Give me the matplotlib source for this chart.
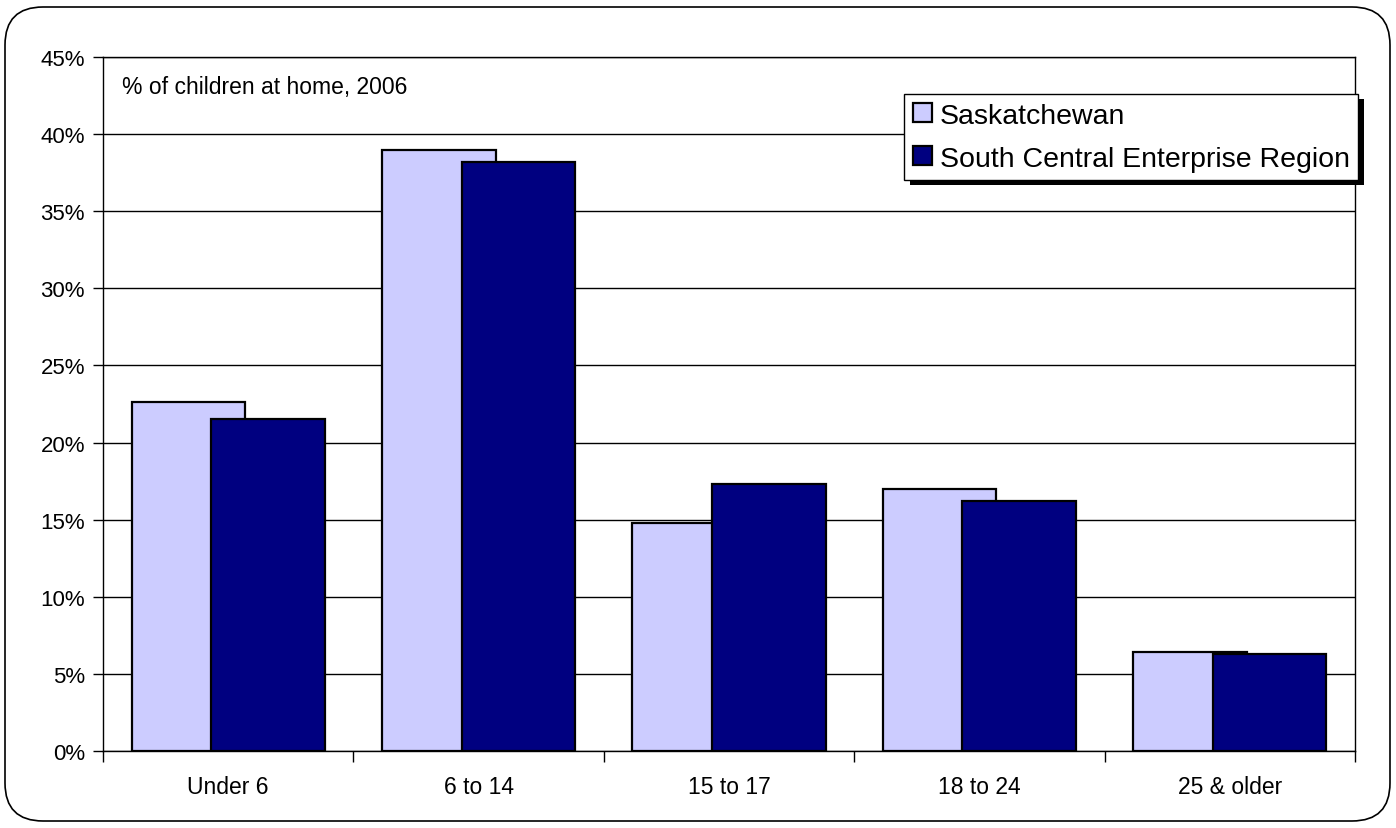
import matplotlib
matplotlib.use("Agg")
import matplotlib.pyplot as plt
from matplotlib.patches import FancyBboxPatch, Rectangle
import numpy as np

plt.rcParams['font.family'] = ['Liberation Sans', 'DejaVu Sans']

categories = ["Under 6", "6 to 14", "15 to 17", "18 to 24", "25 & older"]
saskatchewan = [22.6, 39.0, 14.8, 17.0, 6.4]
south_central = [21.5, 38.2, 17.3, 16.2, 6.3]
series_names = ["Saskatchewan", "South Central Enterprise Region"]
yticks = [0, 5, 10, 15, 20, 25, 30, 35, 40, 45]

fig = plt.figure(figsize=(13.96, 8.29), dpi=100)

# rounded outer frame
bg = fig.add_axes([0, 0, 1, 1], zorder=0)
bg.set_xlim(0, 1396)
bg.set_ylim(829, 0)
bg.axis("off")
bg.add_patch(FancyBboxPatch((5, 8), 1385, 814, boxstyle="round,pad=0,rounding_size=38",
                            facecolor="white", edgecolor="black", linewidth=1.2))

ax = fig.add_axes([103 / 1396, 1 - 752 / 829, 1252 / 1396, 694 / 829], zorder=1)
ax.set_facecolor("white")

x = np.arange(len(categories))
w = 0.454
off = 0.159
ax.bar(x - off, saskatchewan, w, color="#CCCCFF", edgecolor="black", linewidth=1.6,
       label=series_names[0], zorder=2)
ax.bar(x + off, south_central, w, color="#000080", edgecolor="black", linewidth=1.6,
       label=series_names[1], zorder=3)

ax.set_xlim(-0.5, len(categories) - 0.5)
ax.set_ylim(0, 45)
ax.set_yticks(yticks)
ax.set_yticklabels([f"{v}%" for v in yticks], fontsize=16)
ax.yaxis.grid(True, color="black", linewidth=1)
ax.set_axisbelow(True)
ax.set_xticks(x)
ax.set_xticklabels(categories, fontsize=16.5)
ax.set_xticks(np.arange(len(categories) + 1) - 0.5, minor=True)
ax.tick_params(axis="x", which="major", length=0, pad=17)
ax.tick_params(axis="x", which="minor", length=8, direction="out", width=1)
ax.tick_params(axis="y", length=7, width=1, pad=6)
for s in ax.spines.values():
    s.set_color("black")
    s.set_linewidth(1)

ax.text(0.015, 0.957, "% of children at home, 2006", transform=ax.transAxes,
        fontsize=16.5, va="center", ha="left")

leg = fig.legend(loc="upper left", bbox_to_anchor=(904 / 1396, 1 - 95 / 829),
                 fontsize=20.5, frameon=True, fancybox=False, edgecolor="black",
                 framealpha=1, facecolor="white",
                 handlelength=0.7, handleheight=0.63, handletextpad=0.25,
                 labelspacing=0.6, borderpad=0.3, borderaxespad=0)
leg.get_frame().set_linewidth(1)
leg.set_zorder(5)

fig.canvas.draw()
bb = leg.get_window_extent()
fig.patches.append(Rectangle((bb.x0 + 6, bb.y0 - 5), bb.width, bb.height, transform=None,
                             facecolor="black", edgecolor="none", zorder=4))

fig.savefig("out.png", dpi=100)
